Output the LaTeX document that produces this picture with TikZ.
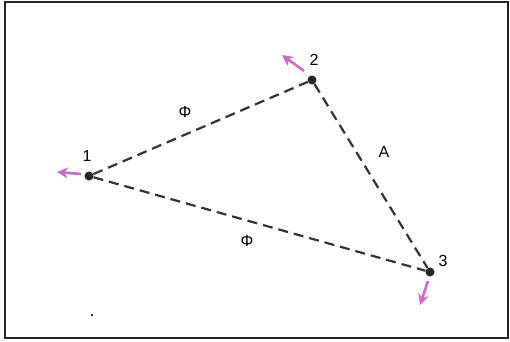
\documentclass[tikz,border=0pt]{standalone}
\usepackage{fontspec}
\setmainfont{Liberation Sans}
\usetikzlibrary{arrows.meta}
\definecolor{pinkarr}{RGB}{205,105,200}
\begin{document}
\begin{tikzpicture}[x=1pt,y=-1pt,
  vtx/.style={circle,fill=black!85,inner sep=0pt,minimum size=9pt},
  edge/.style={draw=black!80,line width=2.2pt,dash pattern=on 10pt off 6pt},
  lbl/.style={font=\fontsize{16}{18}\selectfont,inner sep=1pt},
  vel/.style={draw=pinkarr,line width=2.6pt,-{Stealth[length=11pt,width=11pt]}}]
\useasboundingbox (0,0) rectangle (510,341);
\draw[line width=2pt,black!85] (5,2) rectangle (508,338);
\node[vtx] (v1) at (89,176) {};
\node[vtx] (v2) at (312,80) {};
\node[vtx] (v3) at (430,272) {};
\node[lbl] (l1) at (87,156) {1};
\node[lbl] (l2) at (314,60) {2};
\node[lbl] (l3) at (443,261) {3};
\draw[edge] (v1) -- (v2);
\draw[edge] (v2) -- (v3);
\draw[edge] (v1) -- (v3);
\node[lbl] (p1) at (185,112) {Φ};
\node[lbl] (p2) at (247,241) {Φ};
\node[lbl] (pa) at (384,152) {A};
\coordinate (a1s) at (81,174);
\coordinate (a1e) at (57,172);
\coordinate (a2s) at (304,71);
\coordinate (a2e) at (282,55);
\coordinate (a3s) at (428,281);
\coordinate (a3e) at (420,305);
\draw[vel] (a1s) -- (a1e);
\draw[vel] (a2s) -- (a2e);
\draw[vel] (a3s) -- (a3e);
\node[circle,fill=black,inner sep=0pt,minimum size=2.5pt] (dot) at (92,315) {};
\end{tikzpicture}
\end{document}
